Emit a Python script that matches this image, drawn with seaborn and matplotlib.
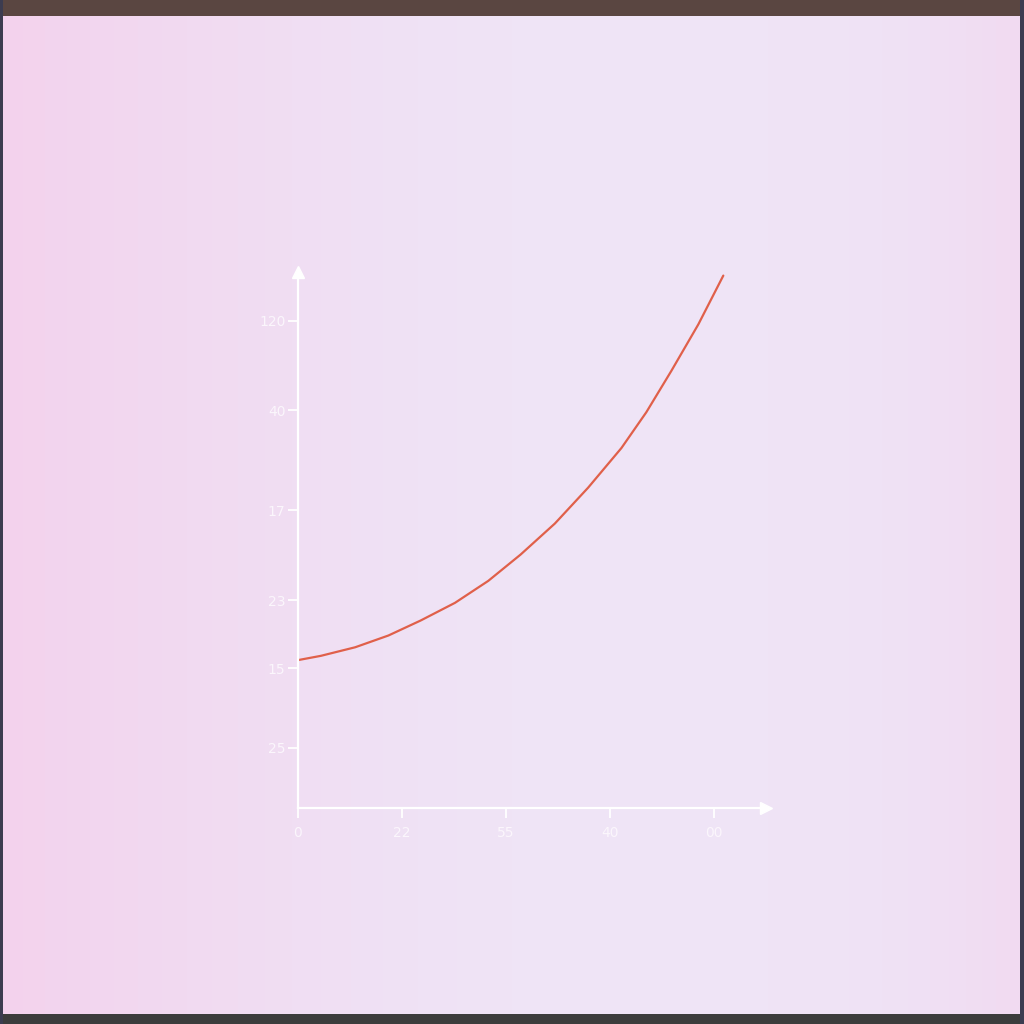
import numpy as np
import pandas as pd
import matplotlib.pyplot as plt
import seaborn as sns

# curve values (x in tick steps, y on a 0-100 axis scale)
x_vals = [0.0, 0.22, 0.55, 0.87, 1.18, 1.51, 1.83, 2.14, 2.47, 2.79, 3.11, 3.35, 3.59, 3.85, 4.09]
y_vals = [27.6, 28.4, 30.0, 32.2, 35.0, 38.3, 42.4, 47.3, 53.1, 59.8, 67.2, 73.9, 81.6, 90.3, 99.4]

x_ticks = [0, 1, 2, 3, 4]
x_labels = ['0', '22', '55', '40', '00']
y_ticks = [11.2, 26.1, 38.8, 55.6, 74.3, 91.0]
y_labels = ['25', '15', '23', '17', '40', '120']

df = pd.DataFrame({'x': x_vals, 'y': y_vals})

sns.set_style('white')
plt.rcParams['font.family'] = ['DejaVu Sans']

bg = '#efe3f5'
fig = plt.figure(figsize=(10.24, 10.24), dpi=100, facecolor=bg)

# soft background tint: pinker towards the left and right edges
h, w = 1024, 1024
xx = np.linspace(0, 1, w)
base = np.array([239, 228, 246]) / 255
pink = np.array([244, 208, 236]) / 255
wgt = np.clip(1 - xx / 0.5, 0, 1) ** 1.3 * 0.9 + np.clip((xx - 0.75) / 0.25, 0, 1) ** 2 * 0.5
img = base[None, None, :] * (1 - wgt[None, :, None]) + pink[None, None, :] * wgt[None, :, None]
img = np.repeat(img, h, axis=0)
# dark frame strips at the top and bottom
img[:16, :, :] = np.array([90, 70, 65]) / 255
img[-10:, :, :] = np.array([60, 60, 60]) / 255
img[:, :3, :] = np.array([60, 60, 80]) / 255
img[:, -4:, :] = np.array([60, 60, 80]) / 255
fig.figimage(img, 0, 0, zorder=-1)

ax = fig.add_axes([0.291, 0.211, 0.457, 0.523])
ax.set_zorder(2)
ax.set_facecolor('none')

sns.lineplot(data=df, x='x', y='y', ax=ax, color='#e0604a', linewidth=1.6)

ax.set_xlim(0, 4.5)
ax.set_ylim(0, 100)

for side in ['top', 'right']:
    ax.spines[side].set_visible(False)
for side in ['left', 'bottom']:
    ax.spines[side].set_color('white')
    ax.spines[side].set_linewidth(1.6)

# arrow heads at the axis ends
ax.plot(1, 0, '>', color='white', markersize=8, transform=ax.transAxes, clip_on=False)
ax.plot(0, 1, '^', color='white', markersize=8, transform=ax.transAxes, clip_on=False)

ax.set_xticks(x_ticks)
ax.set_xticklabels(x_labels)
ax.set_yticks(y_ticks)
ax.set_yticklabels(y_labels)
ax.tick_params(axis='both', bottom=True, left=True, colors='white', length=7, width=1.3,
               labelsize=10, labelcolor='#fbf6fc', direction='out')
ax.tick_params(axis='x', pad=6)
ax.tick_params(axis='y', pad=2)
ax.set_xlabel('')
ax.set_ylabel('')

fig.savefig('out.png', dpi=100, facecolor=fig.get_facecolor())
